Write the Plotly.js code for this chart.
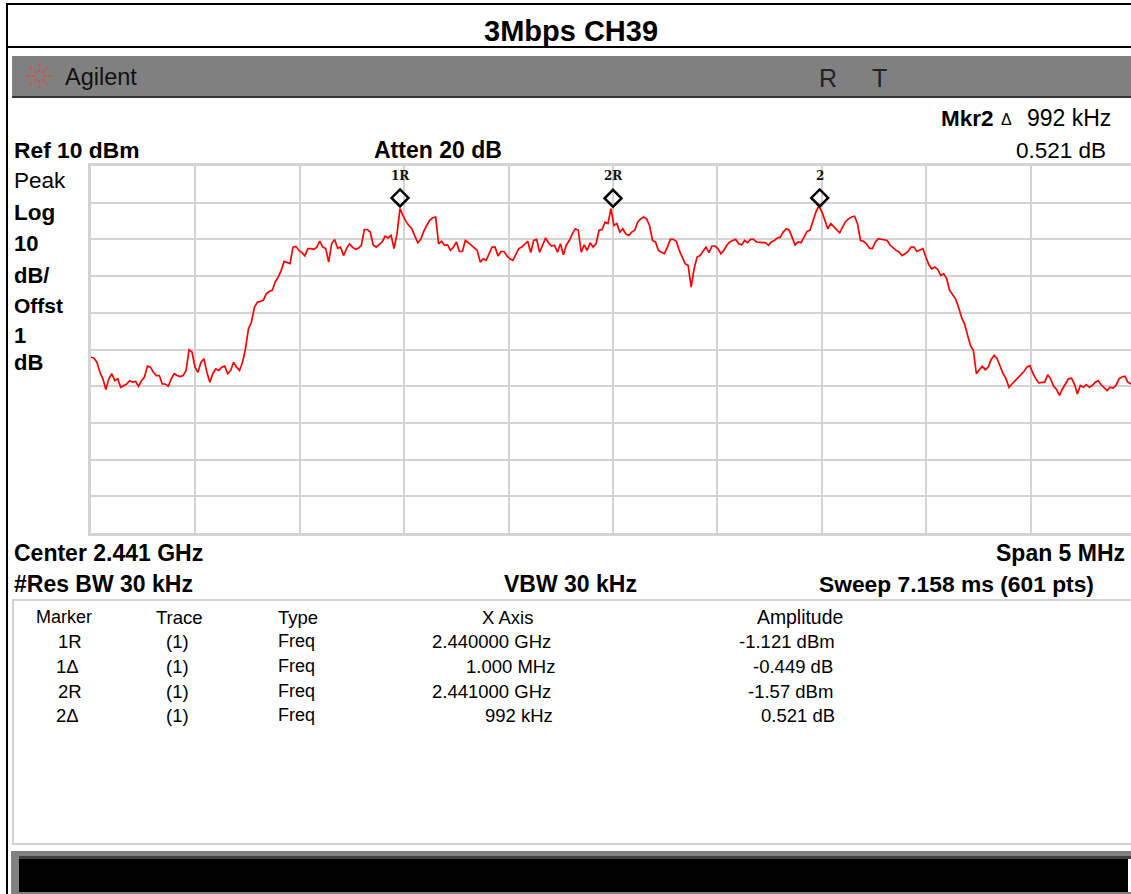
<!DOCTYPE html>
<html><head><meta charset="utf-8">
<script src="https://cdn.plot.ly/plotly-3.0.1.min.js"></script>
<style>html,body{margin:0;padding:0;background:#fff;overflow:hidden}#w{width:1131px;height:894px;overflow:hidden}#c{width:1135px;height:894px}</style>
</head><body><div id="w"><div id="c"></div></div>
<script>
const sweepStartGHz = 2.4385;
const sweepStepGHz = 0.000014229;
const traceLevelsDbm = [
-42.1,-42.4,-43.5,-46.2,-48.0,-50.9,-48.0,-46.6,-48.5,-48.0,-50.3,-49.8,-49.4,-48.5,-48.9,-48.7,-50.0,-48.5,-47.5,-44.5,
-44.8,-46.2,-47.1,-47.1,-49.4,-49.4,-50.0,-48.0,-46.6,-47.1,-47.4,-47.1,-45.7,-40.1,-40.7,-44.8,-46.2,-43.5,-42.5,-46.2,
-48.9,-46.6,-45.3,-45.7,-44.8,-44.5,-46.6,-45.7,-43.5,-44.8,-45.7,-43.5,-39.8,-34.4,-32.5,-28.5,-27.1,-26.9,-26.6,-24.8,
-24.2,-23.9,-21.6,-20.3,-18.5,-16.0,-16.4,-16.6,-12.1,-11.9,-13.0,-13.6,-14.5,-12.5,-12.5,-12.7,-12.1,-10.5,-12.1,-12.5,
-16.2,-11.2,-10.0,-12.4,-12.1,-14.4,-12.5,-11.2,-12.1,-12.7,-12.4,-11.6,-7.3,-7.3,-8.0,-11.5,-12.1,-11.5,-10.7,-9.1,
-9.6,-8.9,-12.5,-8.5,-1.6,-3.5,-5.1,-6.2,-7.1,-9.1,-10.9,-10.0,-7.8,-6.2,-4.8,-4.1,-3.9,-11.2,-10.5,-11.6,
-11.5,-13.0,-12.1,-10.7,-13.3,-13.3,-10.3,-10.9,-11.6,-12.1,-13.0,-16.2,-15.3,-15.7,-13.9,-12.1,-12.1,-14.5,-13.3,-13.3,
-14.5,-15.3,-15.7,-13.9,-12.5,-12.1,-11.2,-10.5,-13.6,-10.3,-10.0,-13.5,-11.6,-9.6,-10.9,-11.8,-11.6,-13.5,-11.2,-14.2,
-11.5,-10.3,-8.5,-7.1,-7.5,-13.5,-11.5,-13.0,-10.9,-12.1,-11.2,-7.5,-7.3,-5.3,-5.7,-1.6,-6.2,-5.7,-8.0,-7.1,
-8.5,-8.9,-8.0,-7.5,-5.3,-4.4,-3.9,-4.4,-6.2,-10.3,-10.7,-13.0,-13.5,-13.9,-12.1,-10.0,-10.0,-10.5,-13.0,-14.8,
-16.6,-17.1,-23.0,-18.0,-14.8,-14.4,-13.3,-12.1,-13.6,-11.8,-11.8,-12.5,-13.9,-13.0,-11.6,-10.7,-10.3,-10.0,-11.2,-11.5,
-10.3,-10.9,-10.0,-10.0,-10.7,-10.9,-10.9,-10.9,-11.6,-10.7,-10.3,-9.6,-9.4,-8.0,-7.1,-7.5,-9.4,-11.5,-10.7,-10.9,
-9.4,-7.8,-7.5,-4.8,-2.5,-0.9,-2.5,-4.8,-7.1,-5.7,-6.6,-7.5,-8.2,-6.6,-5.1,-4.4,-3.9,-3.7,-5.7,-10.3,
-10.5,-11.2,-12.4,-12.5,-10.7,-9.8,-10.0,-10.0,-10.3,-11.6,-12.4,-13.0,-13.5,-14.4,-13.9,-13.3,-12.1,-12.1,-13.3,-13.0,
-12.5,-14.8,-16.9,-18.0,-17.5,-18.2,-19.8,-19.4,-20.7,-23.9,-25.1,-26.2,-28.5,-31.2,-33.0,-35.7,-38.9,-40.3,-46.6,-45.5,
-44.6,-45.5,-44.8,-42.7,-41.6,-42.5,-44.8,-46.6,-48.0,-50.3,-49.4,-48.5,-47.8,-46.9,-46.0,-44.8,-44.4,-46.4,-48.0,-49.1,
-48.9,-48.9,-46.9,-48.0,-50.0,-50.9,-52.5,-50.7,-49.4,-48.0,-47.8,-49.4,-52.1,-49.8,-50.3,-49.6,-50.3,-49.8,-48.9,-48.5,
-49.6,-50.3,-51.2,-50.3,-50.5,-49.8,-48.0,-47.5,-47.3,-48.9,-49.4
];
const markerFreqGHz = [2.43998, 2.44100, 2.44199];
const markerLevelDbm = [1.3, 1.2, 1.3];
const markerLabels = ['1R', '2R', '2'];

const tableHeaders = ['Marker', 'Trace', 'Type', 'X Axis', 'Amplitude'];
const tableMarker = ['1R', '1Δ', '2R', '2Δ'];
const tableTrace = ['(1)', '(1)', '(1)', '(1)'];
const tableType = ['Freq', 'Freq', 'Freq', 'Freq'];
const tableX = ['2.440000 GHz', '1.000 MHz', '2.441000 GHz', '992 kHz'];
const tableAmp = ['-1.121 dBm', '-0.449 dB', '-1.57 dBm', '0.521 dB'];

const W = 1135, H = 894, L = 91, T = 166, B = 533;
const fx = p => (p - L) / (W - L);
const fy = p => (B - p) / (B - T);
const FONT = 'Liberation Sans, Arial, sans-serif';

const shapes = [];
function rect(x0, y0, x1, y1, fill) {
  shapes.push({type:'rect', xref:'paper', yref:'paper', x0:fx(x0), x1:fx(x1), y0:fy(y0), y1:fy(y1), fillcolor:fill, line:{width:0}, layer:'below'});
}
function seg(x0, y0, x1, y1, color, w, dash) {
  shapes.push({type:'line', xref:'paper', yref:'paper', x0:fx(x0), x1:fx(x1), y0:fy(y0), y1:fy(y1), line:{color:color, width:w, dash:dash||'solid'}, layer:'above'});
}
rect(6, 3, 1135, 5, '#000');
rect(6, 46, 1135, 48, '#000');
rect(6, 3, 8, 894, '#000');
rect(12, 56, 1135, 96, '#808080');
rect(12, 96, 1135, 98, '#333');
rect(12, 599, 1135, 601, '#d3d3d3');
rect(12, 843, 1135, 845, '#d3d3d3');
rect(12, 599, 14, 845, '#d3d3d3');
rect(11, 851, 1135, 856, '#808080');
rect(11, 856, 1135, 859, '#404040');
rect(11, 856, 19, 894, '#808080');
rect(19, 859, 1128, 892, '#000');
rect(19, 892, 1135, 894, '#808080');
[[39,63,39,72],[39,80,39,89],[26,76,35,76],[43,76,52,76],[30,67,36,73],[42,79,48,85],[30,85,36,79],[42,73,48,67]]
  .forEach(s => seg(s[0], s[1], s[2], s[3], '#f04040', 1.6, 'dot'));

const anns = [];
function txt(s, x, y, anchor, size, bold, color) {
  anns.push({xref:'paper', yref:'paper', x:fx(x), y:fy(y), text: bold ? '<b>'+s+'</b>' : s, showarrow:false,
    xanchor:anchor, yanchor:'middle', borderpad:0, font:{family:FONT, size:size, color:color||'#000'}});
}
txt('3Mbps CH39', 571, 31, 'center', 29, true);
txt('Agilent', 64, 77, 'left', 23.5, false, '#111');
txt('R', 828, 78, 'center', 25, false, '#222');
txt('T', 879, 78, 'center', 25, false, '#222');
txt('Mkr2', 940, 118, 'left', 22.5, true);
txt('Δ', 1006, 119, 'center', 16, false);
txt('992 kHz', 1112, 118, 'right', 23, false);
txt('0.521 dB', 1107, 150, 'right', 22.5, false);
txt('Ref 10 dBm', 13, 150, 'left', 22.8, true);
txt('Atten 20 dB', 373, 150, 'left', 23, true);
txt('Peak', 13, 180, 'left', 22.5, false);
txt('Log', 13, 212, 'left', 22.5, true);
txt('10', 13, 243, 'left', 22, true);
txt('dB/', 13, 275, 'left', 22, true);
txt('Offst', 13, 305, 'left', 21, true);
txt('1', 13, 335, 'left', 22, true);
txt('dB', 13, 362, 'left', 22, true);
txt('Center 2.441 GHz', 13, 553, 'left', 23, true);
txt('Span 5 MHz', 1126, 553, 'right', 23, true);
txt('#Res BW 30 kHz', 13, 584, 'left', 23, true);
txt('VBW 30 kHz', 570, 584, 'center', 23, true);
txt('Sweep 7.158 ms (601 pts)', 1095, 584, 'right', 22.8, true);

const tableFs = 18.5;
txt(tableHeaders[0], 64, 617, 'center', 18);
txt(tableHeaders[1], 179, 617, 'center', tableFs);
txt(tableHeaders[2], 277, 617, 'left', tableFs);
txt(tableHeaders[3], 507, 617, 'center', tableFs);
txt(tableHeaders[4], 800, 617, 'center', 19.4);
const rowY = [641, 666, 691, 715];
const markerCx = [70, 67, 70, 67];
const xRight = [552, 556, 552, 554];
const ampRight = [836, 834, 834, 836];
rowY.forEach((y, i) => {
  txt(tableMarker[i], markerCx[i], y, 'center', tableFs);
  txt(tableTrace[i], 177, y, 'center', tableFs);
  txt(tableType[i], 277, y, 'left', 18);
  txt(tableX[i], xRight[i], y, 'right', tableFs);
  txt(tableAmp[i], ampRight[i], y, 'right', tableFs);
});
markerLabels.forEach((s, i) => {
  anns.push({xref:'x', yref:'y', x:markerFreqGHz[i], y:markerLevelDbm[i], yshift:22, text:'<b>'+s+'</b>', showarrow:false,
    xanchor:'center', yanchor:'middle', borderpad:0, font:{family:'DejaVu Serif, serif', size:12, color:'#111'}});
});

const sweepFreq = traceLevelsDbm.map((_, i) => sweepStartGHz + i * sweepStepGHz);

Plotly.newPlot('c', [
  {type:'scatter', mode:'lines', x:sweepFreq, y:traceLevelsDbm, line:{color:'#ff0000', width:1.7}, hoverinfo:'skip'},
  {type:'scatter', mode:'markers', x:markerFreqGHz, y:markerLevelDbm,
   marker:{symbol:'diamond-open', size:13, color:'#000', line:{color:'#000', width:2.5}}, hoverinfo:'skip', cliponaxis:false}
], {
  width:W, height:H, margin:{l:L, r:0, t:T, b:H-B, pad:0}, showlegend:false,
  paper_bgcolor:'#fff', plot_bgcolor:'#fff',
  xaxis:{range:[2.4385, 2.4435], tick0:2.4385, dtick:0.0005, showticklabels:false, ticks:'', zeroline:false,
    showgrid:true, gridcolor:'#d3d3d3', gridwidth:2, showline:true, linecolor:'#d3d3d3', linewidth:3, mirror:true},
  yaxis:{range:[-90, 10], tick0:-90, dtick:10, showticklabels:false, ticks:'', zeroline:false,
    showgrid:true, gridcolor:'#d3d3d3', gridwidth:2, showline:true, linecolor:'#d3d3d3', linewidth:3, mirror:true},
  shapes:shapes, annotations:anns
}, {displayModeBar:false, staticPlot:true});
</script></body></html>
